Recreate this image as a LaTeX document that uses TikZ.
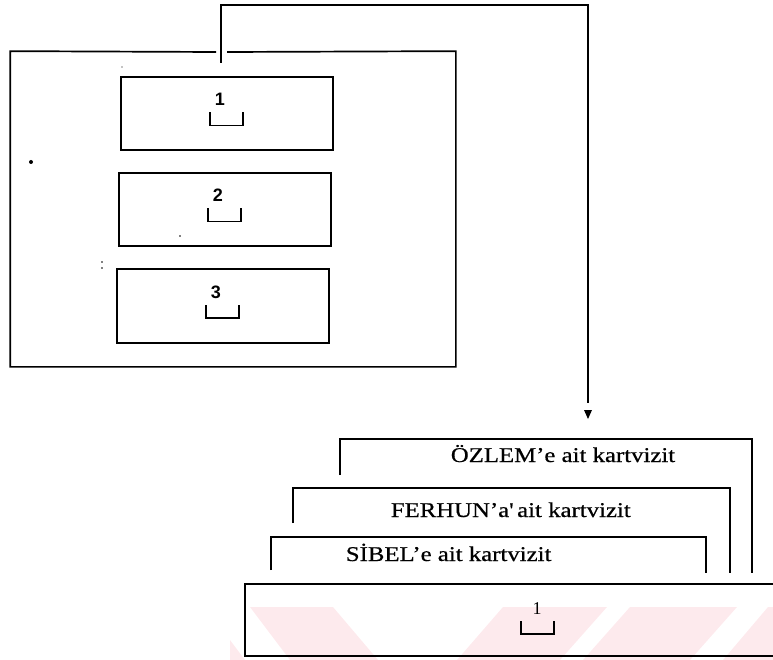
\documentclass[tikz,border=0pt]{standalone}
\usepackage{fontspec}
\setmainfont{Liberation Serif}
\newfontfamily\cardfont[FakeStretch=1.18,FakeBold=0.6]{Liberation Serif}
\newfontfamily\numfont{Liberation Sans}
\definecolor{wmpink}{RGB}{253,234,237}
\newcommand\slotmark[1]{%
  \draw[line width=1.7pt] ([shift={(-17,-1)}]#1) -- ([shift={(-17,12)}]#1) -- ([shift={(16,12)}]#1) -- ([shift={(16,-1)}]#1);}
\begin{document}
\begin{tikzpicture}[x=1pt,y=-1pt,line width=1.7pt,
  slotbox/.style={rectangle,draw,inner sep=0pt,minimum width=212pt,minimum height=73pt},
  slotnum/.style={font=\numfont\bfseries\fontsize{18}{18}\selectfont,inner sep=0pt},
  cardtxt/.style={font=\cardfont\fontsize{21}{21}\selectfont,inner sep=0pt,anchor=base west},
  speck/.style={fill=black}]
\useasboundingbox (0,0) rectangle (773,660);
% watermark stripes
\fill[wmpink] (250,607) -- (333,607) -- (378,660) -- (290,660) -- cycle;
\fill[wmpink] (503,607) -- (607,607) -- (560,660) -- (457,660) -- cycle;
\fill[wmpink] (630,607) -- (737,607) -- (690,660) -- (583,660) -- cycle;
\fill[wmpink] (768,607) -- (773,607) -- (773,660) -- (723,660) -- cycle;
\fill[wmpink] (230,640) -- (245,660) -- (230,660) -- cycle;
% outer frame (with gap for connector)
\node[rectangle,inner sep=0pt,minimum width=444pt,minimum height=314pt] (outer) at (233,209) {};
\coordinate (gapL) at (216,52);
\coordinate (gapR) at (227,52);
\draw (gapL) -- (outer.north west) -- (outer.south west) -- (outer.south east) -- (outer.north east) -- (gapR);
% inner slots
\node[slotbox] (b1) at (227,113.5) {};
\node[slotbox] (b2) at (225,209.5) {};
\node[slotbox,minimum height=74pt] (b3) at (223,306) {};
\node[slotnum] (n1) at ([shift={(-7,-14)}]b1.center) {1};
\node[slotnum] (n2) at ([shift={(-7,-14)}]b2.center) {2};
\node[slotnum] (n3) at ([shift={(-7,-14)}]b3.center) {3};
\slotmark{b1.center}
\slotmark{b2.center}
\slotmark{b3.center}
% connector
\coordinate (cs) at (221,63);
\coordinate (ct) at (588,5);
\coordinate (ce) at (588,403);
\draw (cs) |- (ct) -- (ce);
\fill (ce) ++(-4,7) -- ++(8,0) -- ++(-4,9) -- cycle;
% cards
\coordinate (ozA) at (340,475); \coordinate (ozB) at (340,439);
\coordinate (ozC) at (752,439); \coordinate (ozD) at (752,573);
\draw (ozA) -- (ozB) -- (ozC) -- (ozD);
\coordinate (feA) at (293,523); \coordinate (feB) at (293,488);
\coordinate (feC) at (730,488); \coordinate (feD) at (730,573);
\draw (feA) -- (feB) -- (feC) -- (feD);
\coordinate (siA) at (271,570); \coordinate (siB) at (271,537);
\coordinate (siC) at (706,537); \coordinate (siD) at (706,573);
\draw (siA) -- (siB) -- (siC) -- (siD);
\node[cardtxt] (tOz) at (450,462) {ÖZLEM’e ait kartvizit};
\node[cardtxt] (tFe) at (390,517) {FERHUN’a'\,ait kartvizit};
\node[cardtxt] (tSi) at (345,561) {SİBEL’e ait kartvizit};
% bottom slot
\coordinate (bbA) at (773,584); \coordinate (bbB) at (245,584);
\coordinate (bbC) at (245,656); \coordinate (bbD) at (773,656);
\draw (bbA) -- (bbB) -- (bbC) -- (bbD);
\coordinate (bbc) at (538,622);
\node[font=\fontsize{18}{18}\selectfont,inner sep=0pt] (nb) at ([shift={(-1,-13)}]bbc) {1};
\slotmark{bbc}
% specks
\fill[speck] (31,162) circle (2);
\fill[speck] (102,262) circle (0.9);
\fill[speck] (102,268) circle (0.9);
\fill[speck] (180,236) circle (0.8);
\fill[speck] (122,67) circle (0.7);
\end{tikzpicture}
\end{document}
